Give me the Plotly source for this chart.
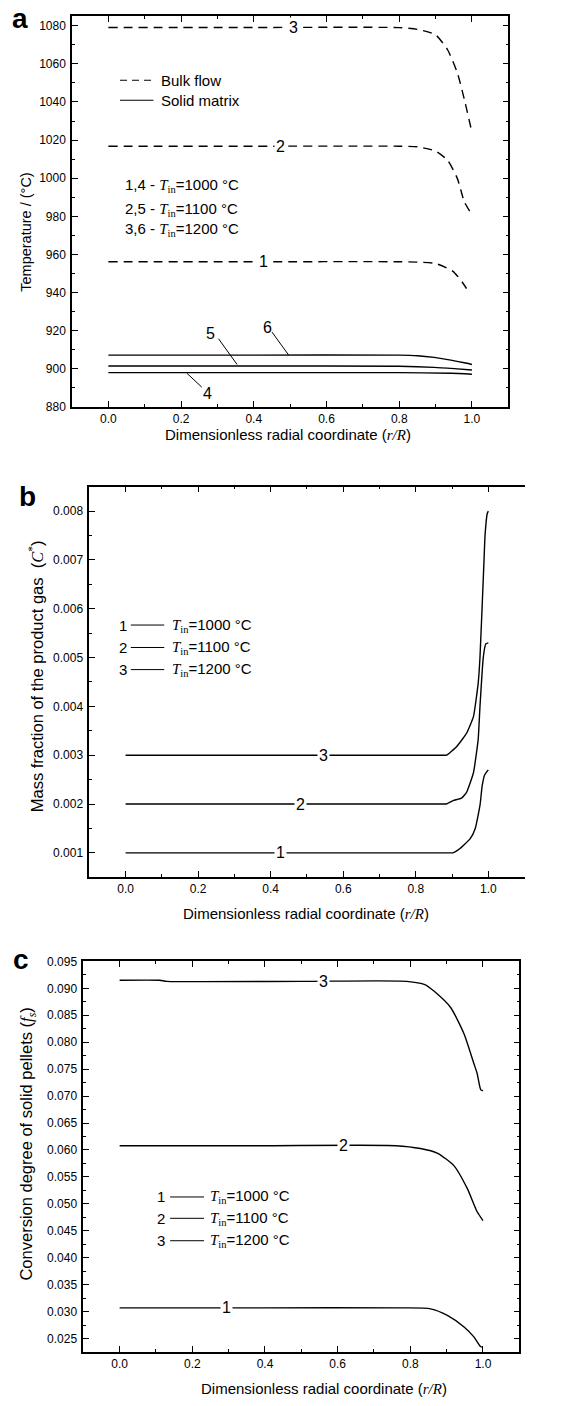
import plotly.graph_objects as go

# ---------------- data ----------------
# Panel a: temperature vs r/R
a_bulk1_x = [0, 0.4, 0.8, 0.85, 0.901, 0.947, 0.974, 0.993]
a_bulk1_t = [956.2, 956.2, 956.2, 956.0, 955.2, 951.3, 945.3, 939.6]
a_bulk2_x = [0, 0.4, 0.8, 0.85, 0.90, 0.933, 0.96, 0.979, 0.997]
a_bulk2_t = [1016.8, 1016.8, 1016.8, 1016.5, 1014.2, 1009.4, 999.8, 987.7, 981.7]
a_bulk3_x = [0, 0.4, 0.8, 0.85, 0.90, 0.933, 0.96, 0.979, 0.997]
a_bulk3_t = [1079.1, 1079.1, 1079.0, 1078.1, 1075.2, 1067.4, 1055.2, 1041.4, 1026.6]
a_solid4_x = [0, 0.4, 0.8, 0.942, 1.0]
a_solid4_t = [898.0, 898.0, 898.0, 897.7, 897.2]
a_solid5_x = [0, 0.4, 0.8, 0.896, 0.951, 1.0]
a_solid5_t = [901.5, 901.5, 901.4, 900.8, 900.1, 899.4]
a_solid6_x = [0, 0.4, 0.8, 0.85, 0.896, 0.942, 0.979, 1.0]
a_solid6_t = [907.2, 907.2, 907.2, 906.9, 906.0, 904.6, 903.2, 902.3]

# Panel b: mass fraction of product gas
b1_x = [0, 0.45, 0.85, 0.895, 0.902, 0.922, 0.95, 0.964, 0.977, 0.983, 0.99, 1.0]
b1_c = [0.001, 0.001, 0.001, 0.001, 0.001, 0.00109, 0.00129, 0.0015, 0.00197, 0.00237, 0.0026, 0.0027]
b2_x = [0, 0.45, 0.85, 0.88, 0.885, 0.903, 0.926, 0.94, 0.959, 0.972, 0.977, 0.986, 0.993, 1.0]
b2_c = [0.002, 0.002, 0.002, 0.002, 0.002, 0.00207, 0.00212, 0.00224, 0.00264, 0.00332, 0.0040,
        0.0050, 0.00528, 0.0053]
b3_x = [0, 0.45, 0.85, 0.88, 0.885, 0.913, 0.94, 0.959, 0.972, 0.977, 0.988, 0.991, 0.997, 1.0]
b3_c = [0.003, 0.003, 0.003, 0.003, 0.003, 0.00318, 0.00345, 0.00379, 0.00447, 0.0050, 0.00697,
        0.00751, 0.00795, 0.008]

# Panel c: conversion degree of solid pellets
c1_x = [0, 0.4, 0.78, 0.856, 0.902, 0.948, 0.975, 0.994, 1.0]
c1_f = [0.0307, 0.0307, 0.0307, 0.03052, 0.0293, 0.02715, 0.02531, 0.02348, 0.0234]
c2_x = [0, 0.4, 0.76, 0.828, 0.874, 0.92, 0.957, 0.984, 1.0]
c2_f = [0.0608, 0.0608, 0.0608, 0.06027, 0.05942, 0.0571, 0.05282, 0.04853, 0.0469]
c3_x = [0, 0.11, 0.13, 0.5, 0.79, 0.84, 0.865, 0.911, 0.948, 0.975, 0.984, 0.994, 1.0]
c3_f = [0.0915, 0.0915, 0.0913, 0.0913, 0.0913, 0.0907, 0.0895, 0.08644, 0.08154, 0.07604, 0.0742,
        0.07116, 0.0710]

x_tickvals = [0.0, 0.2, 0.4, 0.6, 0.8, 1.0]
x_ticktext = ["0.0", "0.2", "0.4", "0.6", "0.8", "1.0"]
temps = ["1000", "1100", "1200"]

# ---------------- figure ----------------
W, H = 565, 1406
SANS = "Liberation Sans, Arial, Helvetica, sans-serif"
SERIF = "Liberation Serif, Times New Roman, serif"
FS = 15


def px(p):
    return p / W


def py(p):
    return 1 - p / H


def tin(temp):
    return (f"<span style='font-family:{SERIF}'><i>T</i><sub>in</sub></span>"
            f"={temp} °C")


fig = go.Figure()
LW = 1.4
dash = "9px,6px"

for xs, ys in [(a_bulk1_x, a_bulk1_t), (a_bulk2_x, a_bulk2_t), (a_bulk3_x, a_bulk3_t)]:
    fig.add_trace(go.Scatter(x=xs, y=ys, mode="lines", xaxis="x", yaxis="y",
                             line=dict(color="black", width=LW, dash=dash, shape="spline", smoothing=0.6),
                             showlegend=False))
for xs, ys in [(a_solid4_x, a_solid4_t), (a_solid5_x, a_solid5_t), (a_solid6_x, a_solid6_t)]:
    fig.add_trace(go.Scatter(x=xs, y=ys, mode="lines", xaxis="x", yaxis="y",
                             line=dict(color="black", width=LW, shape="spline", smoothing=0.6),
                             showlegend=False))
for xs, ys in [(b1_x, b1_c), (b2_x, b2_c), (b3_x, b3_c)]:
    fig.add_trace(go.Scatter(x=xs, y=ys, mode="lines", xaxis="x2", yaxis="y2",
                             line=dict(color="black", width=LW, shape="spline", smoothing=0.4),
                             showlegend=False))
for xs, ys in [(c1_x, c1_f), (c2_x, c2_f), (c3_x, c3_f)]:
    fig.add_trace(go.Scatter(x=xs, y=ys, mode="lines", xaxis="x3", yaxis="y3",
                             line=dict(color="black", width=LW, shape="spline", smoothing=0.6),
                             showlegend=False))

axis_common = dict(showline=True, linecolor="black", linewidth=1.5, ticks="inside",
                   ticklen=6, tickwidth=1, tickcolor="black", showgrid=False, zeroline=False,
                   tickfont=dict(size=12, color="black", family=SANS), mirror="ticks")


def xaxis(domain, anchor, rng, mirror="ticks"):
    d = dict(axis_common)
    d.update(domain=domain, anchor=anchor, range=rng, tickvals=x_tickvals, ticktext=x_ticktext,
             minor=dict(ticks="inside", ticklen=3, tickcolor="black", dtick=0.1, tick0=0,
                        showgrid=False), mirror=mirror)
    return d


def yaxis(domain, anchor, rng, dtick, tick0, fmt, mdtick, mirror="ticks"):
    d = dict(axis_common)
    d.update(domain=domain, anchor=anchor, range=rng, dtick=dtick, tick0=tick0, tickformat=fmt,
             minor=dict(ticks="inside", ticklen=3, tickcolor="black", dtick=mdtick, tick0=tick0,
                        showgrid=False), mirror=mirror, ticklabelstandoff=2)
    return d


fig.update_layout(
    width=W, height=H, margin=dict(l=0, r=0, t=0, b=0),
    paper_bgcolor="white", plot_bgcolor="white",
    font=dict(family=SANS, color="black"),
    xaxis=xaxis([px(72.0), px(508.3)], "y", [-0.1, 1.1]),
    yaxis=yaxis([py(404), py(9.3)], "x", [880, 1085], 20, 880, "d", 10),
    xaxis2=xaxis([px(89.3), px(524.6)], "y2", [-0.1, 1.1]),
    yaxis2=yaxis([py(879), py(484.5)], "x2", [0.0005, 0.0085], 0.001, 0.0, ".3f", 0.0005, mirror=False),
    xaxis3=xaxis([px(83.3), px(519.3)], "y3", [-0.1, 1.1]),
    yaxis3=yaxis([py(1358.3), py(964)], "x3", [0.02255, 0.095], 0.005, 0.025, ".3f", 0.0025),
)

ann = []
shapes = []


def paper_text(text, x, y, size=FS, angle=0, bold=False, xanchor="center"):
    ann.append(dict(text=(f"<b>{text}</b>" if bold else text), x=px(x), y=py(y), xref="paper",
                    yref="paper", showarrow=False, textangle=angle, xanchor=xanchor,
                    yanchor="middle", font=dict(size=size, family=SANS, color="black")))


xtitle = f"Dimensionless radial coordinate (<span style='font-family:{SERIF}'><i>r/R</i></span>)"
paper_text(xtitle, 288, 432)
paper_text(xtitle, 306, 916)
paper_text(xtitle, 324, 1395)
paper_text("Temperature / (°C)", 26, 228, size=14.5, angle=-90)
paper_text(f"Mass fraction of the product gas  (<span style='font-family:{SERIF}'><i>C</i><sup>*</sup></span>)",
           36, 676, size=16.5, angle=-90)
paper_text(f"Conversion degree of solid pellets (<span style='font-family:{SERIF}'><i>f</i><sub><i>s</i></sub></span>)",
           27, 1149, size=16.5, angle=-90)
paper_text("a", 20, 12, size=28, bold=True)
paper_text("b", 27, 494, size=28, bold=True)
paper_text("c", 21, 962, size=28, bold=True)


def label(text, x, y, xr, yr, bg=True):
    ann.append(dict(text=text, x=x, y=y, xref=xr, yref=yr, showarrow=False,
                    bgcolor="white" if bg else None, borderpad=1,
                    font=dict(size=16, family=SANS, color="black")))


# curve labels
label("3", 0.51, a_bulk3_t[1], "x", "y")
label("2", 0.473, a_bulk2_t[1], "x", "y")
label("1", 0.427, a_bulk1_t[1], "x", "y")
label("6", 0.437, 921.9, "x", "y", bg=False)
label("5", 0.282, 918.8, "x", "y", bg=False)
label("4", 0.273, 887.3, "x", "y", bg=False)
for (x0, y0, x1, y1) in [(0.45, 919.3, 0.496, 907.2), (0.303, 915.8, 0.354, 902.3),
                         (0.257, 890.4, 0.216, 897.7)]:
    shapes.append(dict(type="line", xref="x", yref="y", x0=x0, y0=y0, x1=x1, y1=y1,
                       line=dict(color="black", width=1)))

label("1", 0.428, b1_c[0], "x2", "y2")
label("2", 0.481, b2_c[0], "x2", "y2")
label("3", 0.545, b3_c[0], "x2", "y2")

label("1", 0.293, c1_f[0], "x3", "y3")
label("2", 0.617, c2_f[0], "x3", "y3")
label("3", 0.5616, c3_f[3], "x3", "y3")

# panel a legend
shapes.append(dict(type="line", xref="x", yref="y", x0=0.032, x1=0.124, y0=1051.4, y1=1051.4,
                   line=dict(color="black", width=1.2, dash="7px,5px")))
shapes.append(dict(type="line", xref="x", yref="y", x0=0.032, x1=0.124, y0=1040.9, y1=1040.9,
                   line=dict(color="black", width=1.2)))
for txt, yv in [("Bulk flow", 1051.4), ("Solid matrix", 1040.9)]:
    ann.append(dict(text=txt, x=0.138, y=yv, xref="x", yref="y", showarrow=False, xanchor="left",
                    yanchor="middle", font=dict(size=FS, family=SANS, color="black")))
for pre, tmp, yv in [("1,4 - ", temps[0], 996.4), ("2,5 - ", temps[1], 983.4), ("3,6 - ", temps[2], 973.0)]:
    ann.append(dict(text=pre + tin(tmp), x=0.041, y=yv, xref="x", yref="y", showarrow=False,
                    xanchor="left", yanchor="middle", font=dict(size=FS, family=SANS, color="black")))

# panel b legend
for i, yv in enumerate([0.005666, 0.005206, 0.004753]):
    ann.append(dict(text=str(i + 1), x=-0.0084, y=yv, xref="x2", yref="y2", showarrow=False,
                    xanchor="center", yanchor="middle", font=dict(size=FS, family=SANS, color="black")))
    shapes.append(dict(type="line", xref="x2", yref="y2", x0=0.0145, x1=0.1066, y0=yv, y1=yv,
                       line=dict(color="black", width=1)))
    ann.append(dict(text=tin(temps[i]), x=0.122, y=yv, xref="x2", yref="y2", showarrow=False,
                    xanchor="left", yanchor="middle", font=dict(size=FS, family=SANS, color="black")))

# panel c legend
for i, yv in enumerate([0.05128, 0.04732, 0.04316]):
    ann.append(dict(text=str(i + 1), x=0.114, y=yv, xref="x3", yref="y3", showarrow=False,
                    xanchor="center", yanchor="middle", font=dict(size=FS, family=SANS, color="black")))
    shapes.append(dict(type="line", xref="x3", yref="y3", x0=0.139, x1=0.2324, y0=yv, y1=yv,
                       line=dict(color="black", width=1)))
    ann.append(dict(text=tin(temps[i]), x=0.2444, y=yv, xref="x3", yref="y3", showarrow=False,
                    xanchor="left", yanchor="middle", font=dict(size=FS, family=SANS, color="black")))

fig.update_layout(annotations=ann, shapes=shapes)
fig.write_html("out.html")
